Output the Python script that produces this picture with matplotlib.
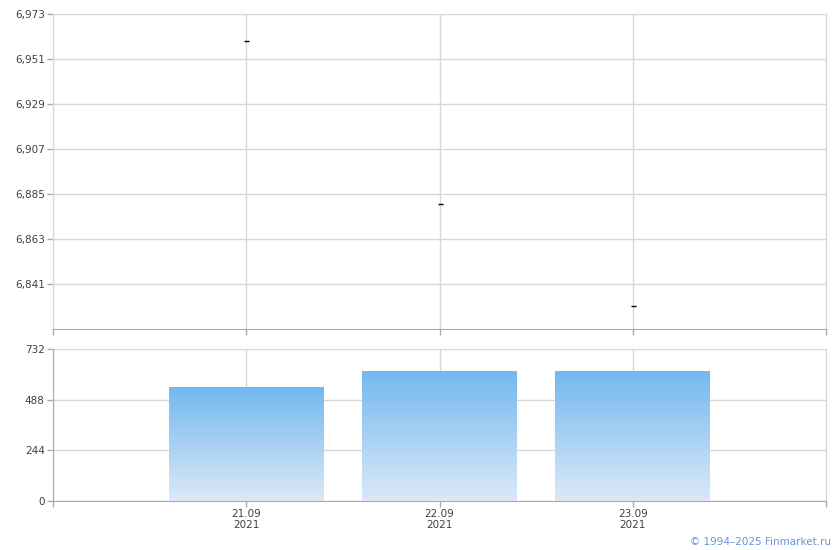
import matplotlib
matplotlib.use("Agg")
import matplotlib.pyplot as plt
import numpy as np
from matplotlib.colors import LinearSegmentedColormap

# ---- data ----
date_labels = ["21.09\n2021", "22.09\n2021", "23.09\n2021"]
price = [6.960, 6.880, 6.830]
volume = [549, 626, 626]
price_ticks = [6.841, 6.863, 6.885, 6.907, 6.929, 6.951, 6.973]
price_tick_labels = ["6,841", "6,863", "6,885", "6,907", "6,929", "6,951", "6,973"]
vol_ticks = [0, 244, 488, 732]
vol_tick_labels = ["0", "244", "488", "732"]

GRID = "#d3d8dd"
AXIS = "#a8aab6"
TXT = "#404040"
FS = 7.5

plt.rcParams["font.family"] = ["DejaVu Sans"]

fig = plt.figure(figsize=(8.4, 5.5), dpi=100)
W, H = 840, 550
def rect(l, t, r, b):
    return [l / W, 1 - b / H, (r - l) / W, (b - t) / H]

ax1 = fig.add_axes(rect(53, 14, 826, 329))
ax2 = fig.add_axes(rect(53, 349, 826, 501))

x = np.arange(len(date_labels))
xticks_all = [-1, 0, 1, 2, 3]

# ---- top panel ----
ax1.plot(x, price, linestyle="none", marker="_", markersize=3.6,
         markeredgewidth=1.0, color="black", zorder=3)
ax1.set_xlim(-1, 3)
ax1.set_ylim(6.819, 6.973)
ax1.set_yticks(price_ticks)
ax1.set_yticklabels(price_tick_labels)
ax1.set_xticks(xticks_all)
ax1.set_xticklabels([])
ax1.grid(True, color=GRID, linewidth=1.0)
ax1.set_axisbelow(True)
for s in ["top", "right", "left"]:
    ax1.spines[s].set_color(GRID)
ax1.spines["bottom"].set_color(AXIS)
ax1.tick_params(axis="both", colors=AXIS, length=4, width=1,
                labelcolor=TXT, labelsize=FS, pad=2)

# ---- bottom panel ----
bars = ax2.bar(x, volume, width=0.8, facecolor="none", edgecolor="none", zorder=2)
ax2.set_xlim(-1, 3)
ax2.set_ylim(0, 732)
cmap = LinearSegmentedColormap.from_list("g", ["#dce9f7", "#73b8ef"])
grad = np.linspace(0, 1, 256).reshape(-1, 1)
for b in bars:
    bx, by = b.get_x(), b.get_y()
    bw, bh = b.get_width(), b.get_height()
    im = ax2.imshow(grad, cmap=cmap, origin="lower", aspect="auto",
                    extent=[bx, bx + bw, by, by + bh], zorder=2)
    im.set_clip_path(b)
ax2.set_xlim(-1, 3)
ax2.set_ylim(0, 732)
ax2.set_yticks(vol_ticks)
ax2.set_yticklabels(vol_tick_labels)
ax2.set_xticks(xticks_all)
ax2.set_xticklabels([""] + date_labels + [""])
ax2.grid(True, color=GRID, linewidth=1.0)
ax2.set_axisbelow(True)
ax2.spines["top"].set_visible(False)
ax2.spines["right"].set_color(GRID)
ax2.spines["left"].set_color(AXIS)
ax2.spines["bottom"].set_color(AXIS)
ax2.tick_params(axis="both", colors=AXIS, length=4, width=1,
                labelcolor=TXT, labelsize=FS, pad=2)
for lab in ax2.get_xticklabels():
    lab.set_linespacing(1.1)

fig.text(831 / W, 1 - 542 / H, "© 1994–2025 Finmarket.ru", ha="right", va="center",
         color="#6a92dc", fontsize=7.5)

fig.savefig("out.png", dpi=100)
